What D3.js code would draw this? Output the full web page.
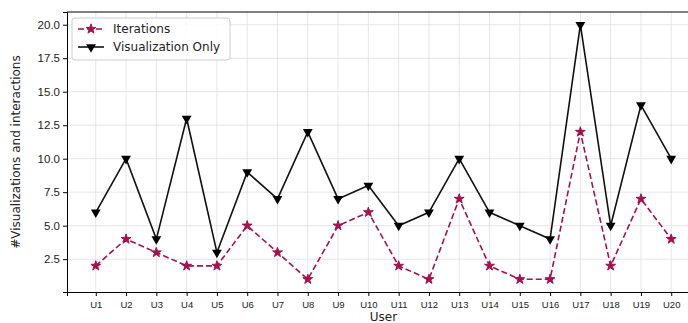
<!DOCTYPE html>
<html lang="en">
<head>
<meta charset="UTF-8">
<title>Visualizations and interactions per user</title>
<style>
    body { margin: 0; background: #fff; }
    svg { display: block; font-family: "DejaVu Sans", sans-serif; }
    .grid line { stroke: #e0e0e0; stroke-width: 0.8; }
    .axis path, .axis line { stroke: #000; }
    .axis text { fill: #222; }
</style>
</head>
<body>
<svg id="chart" width="688" height="323"></svg>
<script src="https://d3js.org/d3.v7.min.js"></script>
<script>
const users = ['U1','U2','U3','U4','U5','U6','U7','U8','U9','U10',
               'U11','U12','U13','U14','U15','U16','U17','U18','U19','U20'];
const iterations = [2,4,3,2,2,5,3,1,5,6,2,1,7,2,1,1,12,2,7,4];
const vizOnly = [6,10,4,13,3,9,7,12,7,8,5,6,10,6,5,4,20,5,14,10];
const yTicks = [2.5,5,7.5,10,12.5,15,17.5,20];

const svg = d3.select('#chart');
const plotLeft = 67, plotTop = 12, plotBottom = 292, plotRight = 700;

// matplotlib style 5% margins
const x = d3.scaleLinear().domain([0.05, 20.95]).range([plotLeft, plotRight]);
const y = d3.scaleLinear().domain([0.05, 20.95]).range([plotBottom, plotTop]);

svg.append('defs').append('clipPath').attr('id', 'clip')
    .append('rect').attr('x', plotLeft).attr('y', plotTop - 8)
    .attr('width', plotRight - plotLeft).attr('height', plotBottom - plotTop + 16);

// grid
const grid = svg.append('g').attr('class', 'grid');
grid.selectAll('.gx').data(users).enter().append('line')
    .attr('x1', (d, i) => x(i + 1)).attr('x2', (d, i) => x(i + 1))
    .attr('y1', plotTop).attr('y2', plotBottom);
grid.selectAll('.gy').data(yTicks).enter().append('line')
    .attr('x1', plotLeft).attr('x2', plotRight)
    .attr('y1', d => y(d)).attr('y2', d => y(d));

// axes
svg.append('g').attr('class', 'axis')
    .attr('transform', `translate(0,${plotBottom})`)
    .call(d3.axisBottom(x).tickValues(d3.range(1, 21)).tickFormat(i => users[i - 1]).tickSizeOuter(0).tickSize(4))
    .call(g => g.selectAll('text').attr('font-size', 9.5).attr('dy', '0.9em'));

svg.append('g').attr('class', 'axis')
    .attr('transform', `translate(${plotLeft},0)`)
    .call(d3.axisLeft(y).tickValues(yTicks).tickFormat(d3.format('.1f')).tickSizeOuter(0).tickSize(4))
    .call(g => g.selectAll('text').attr('font-size', 11.5));

svg.append('line').attr('x1', plotLeft).attr('x2', plotRight)
    .attr('y1', plotTop).attr('y2', plotTop).attr('stroke', '#000');

// labels
svg.append('text').attr('x', x(10.5)).attr('y', 321)
    .attr('text-anchor', 'middle').attr('font-size', 12).attr('fill', '#222').text('User');
svg.append('text').attr('transform', `translate(20,${(plotTop + plotBottom) / 2}) rotate(-90)`)
    .attr('text-anchor', 'middle').attr('font-size', 12).attr('fill', '#222')
    .text('#Visualizations and interactions');

const iterColor = '#a3124f';
const star = d3.symbol().type(d3.symbolStar).size(30);
const tri = d3.symbol().type(d3.symbolTriangle).size(42);

const plot = svg.append('g').attr('clip-path', 'url(#clip)');
const line = d3.line().x((d, i) => x(i + 1)).y(d => y(d));

plot.append('path').datum(vizOnly).attr('d', line)
    .attr('fill', 'none').attr('stroke', '#111').attr('stroke-width', 1.6);
plot.selectAll('.tri').data(vizOnly).enter().append('path')
    .attr('d', tri).attr('fill', '#000')
    .attr('transform', (d, i) => `translate(${x(i + 1)},${y(d)}) rotate(180)`);

plot.append('path').datum(iterations).attr('d', line)
    .attr('fill', 'none').attr('stroke', iterColor).attr('stroke-width', 1.6)
    .attr('stroke-dasharray', '6,3');
plot.selectAll('.star').data(iterations).enter().append('path')
    .attr('d', star).attr('fill', iterColor)
    .attr('stroke', iterColor).attr('stroke-width', 1)
    .attr('transform', (d, i) => `translate(${x(i + 1)},${y(d)})`);

// legend
const lg = svg.append('g').attr('transform', 'translate(72,18)');
lg.append('rect').attr('width', 158).attr('height', 42).attr('rx', 3)
    .attr('fill', '#fff').attr('fill-opacity', 0.85).attr('stroke', '#ccc');
lg.append('line').attr('x1', 6).attr('x2', 32).attr('y1', 11).attr('y2', 11)
    .attr('stroke', iterColor).attr('stroke-width', 1.6).attr('stroke-dasharray', '6,3');
lg.append('path').attr('d', star())
    .attr('fill', iterColor).attr('stroke', iterColor).attr('stroke-width', 1)
    .attr('transform', 'translate(19,11)');
lg.append('text').attr('x', 41).attr('y', 15).attr('font-size', 12).attr('fill', '#222').text('Iterations');
lg.append('line').attr('x1', 6).attr('x2', 32).attr('y1', 29).attr('y2', 29)
    .attr('stroke', '#111').attr('stroke-width', 1.6);
lg.append('path').attr('d', tri()).attr('fill', '#000')
    .attr('transform', 'translate(19,29) rotate(180)');
lg.append('text').attr('x', 41).attr('y', 33).attr('font-size', 12).attr('fill', '#222').text('Visualization Only');
</script>
</body>
</html>
